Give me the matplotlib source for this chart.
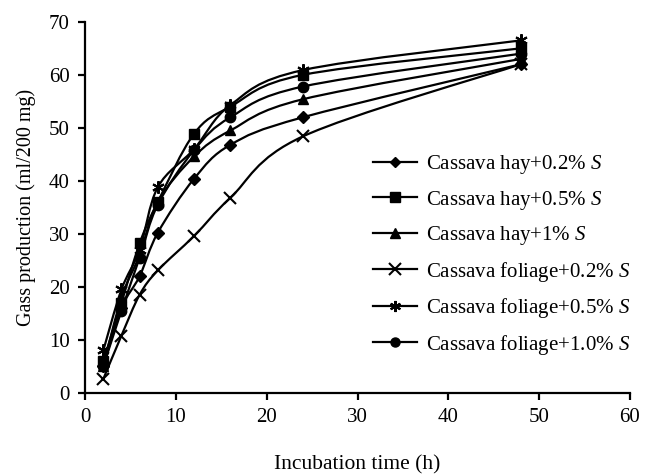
import matplotlib
matplotlib.use("Agg")
import matplotlib.pyplot as plt
import numpy as np
from matplotlib.path import Path
from matplotlib.patches import PathPatch

plt.rcParams['font.family'] = ['Liberation Serif', 'DejaVu Serif']
plt.rcParams['mathtext.fontset'] = 'custom'
plt.rcParams['mathtext.it'] = 'Liberation Serif:italic'
plt.rcParams['mathtext.rm'] = 'Liberation Serif'

hours = [2, 4, 6, 8, 12, 16, 24, 48]

hay_02 = [5.0, 16.0, 22.0, 30.2, 40.4, 46.8, 52.0, 62.0]
hay_05 = [6.0, 17.0, 28.2, 36.0, 48.9, 54.0, 60.0, 65.0]
hay_1 = [5.0, 18.0, 26.0, 36.0, 44.6, 49.5, 55.4, 63.0]
fol_02 = [2.6, 10.8, 18.5, 23.1, 29.6, 36.8, 48.4, 62.0]
fol_05 = [8.0, 19.5, 27.0, 38.8, 46.0, 54.3, 60.9, 66.5]
fol_10 = [5.0, 15.5, 25.5, 35.5, 45.8, 52.0, 57.8, 64.0]

labels = ['Cassava hay+0.2% $\\it{S}$', 'Cassava hay+0.5% $\\it{S}$',
          'Cassava hay+1% $\\it{S}$', 'Cassava foliage+0.2% $\\it{S}$',
          'Cassava foliage+0.5% $\\it{S}$', 'Cassava foliage+1.0% $\\it{S}$']
series = [hay_02, hay_05, hay_1, fol_02, fol_05, fol_10]
markers = ['D', 's', '^', 'x', (6, 2, 0), 'o']
sizes = [6.5, 7.5, 7.5, 9, 9, 7.5]


def smooth_path(xs, ys):
    # Excel-style smoothed line: cubic Bezier with Catmull-Rom tangents
    pts = np.column_stack([xs, ys]).astype(float)
    verts = [pts[0]]
    codes = [Path.MOVETO]
    n = len(pts)
    for i in range(n - 1):
        p0 = pts[i - 1] if i > 0 else pts[i]
        p1, p2 = pts[i], pts[i + 1]
        p3 = pts[i + 2] if i + 2 < n else pts[i + 1]
        c1 = p1 + (p2 - p0) / 6.0
        c2 = p2 - (p3 - p1) / 6.0
        verts += [c1, c2, p2]
        codes += [Path.CURVE4] * 3
    return Path(verts, codes)


fig = plt.figure(figsize=(6.5, 4.75), dpi=100)
ax = fig.add_axes([0.131, 0.173, 0.838, 0.781])

for ys, lab, m, s in zip(series, labels, markers, sizes):
    mew = 1.5 if m in ('x', (6, 2, 0)) else 1
    ax.add_patch(PathPatch(smooth_path(hours, ys), facecolor='none',
                           edgecolor='black', lw=1.6))
    ax.plot(hours, ys, linestyle='none', marker=m, markersize=s,
            color='black', markeredgewidth=mew)
    ax.plot([], [], color='black', lw=1.6, marker=m, markersize=s - 1,
            label=lab, markeredgewidth=mew)

ax.set_xlim(0, 60)
ax.set_ylim(0, 70)
ax.set_xticks(range(0, 61, 10))
ax.set_yticks(range(0, 71, 10))
ax.spines['top'].set_visible(False)
ax.spines['right'].set_visible(False)
ax.spines['left'].set_linewidth(1.6)
ax.spines['bottom'].set_linewidth(1.6)
ax.tick_params(direction='out', length=5, width=1.6, labelsize=15, pad=6)

ax.set_xlabel('Incubation time (h)', fontsize=15.5, labelpad=20)
ax.set_ylabel('Gass production (ml/200 mg)', fontsize=14.5, labelpad=9)

ax.legend(loc='center left', bbox_to_anchor=(373 / 650, 1 - 255 / 475),
          bbox_transform=fig.transFigure, frameon=False, borderpad=0,
          borderaxespad=0, fontsize=15, handlelength=2.1,
          labelspacing=0.6, handletextpad=0.45)

fig.savefig('out.png', dpi=100)
